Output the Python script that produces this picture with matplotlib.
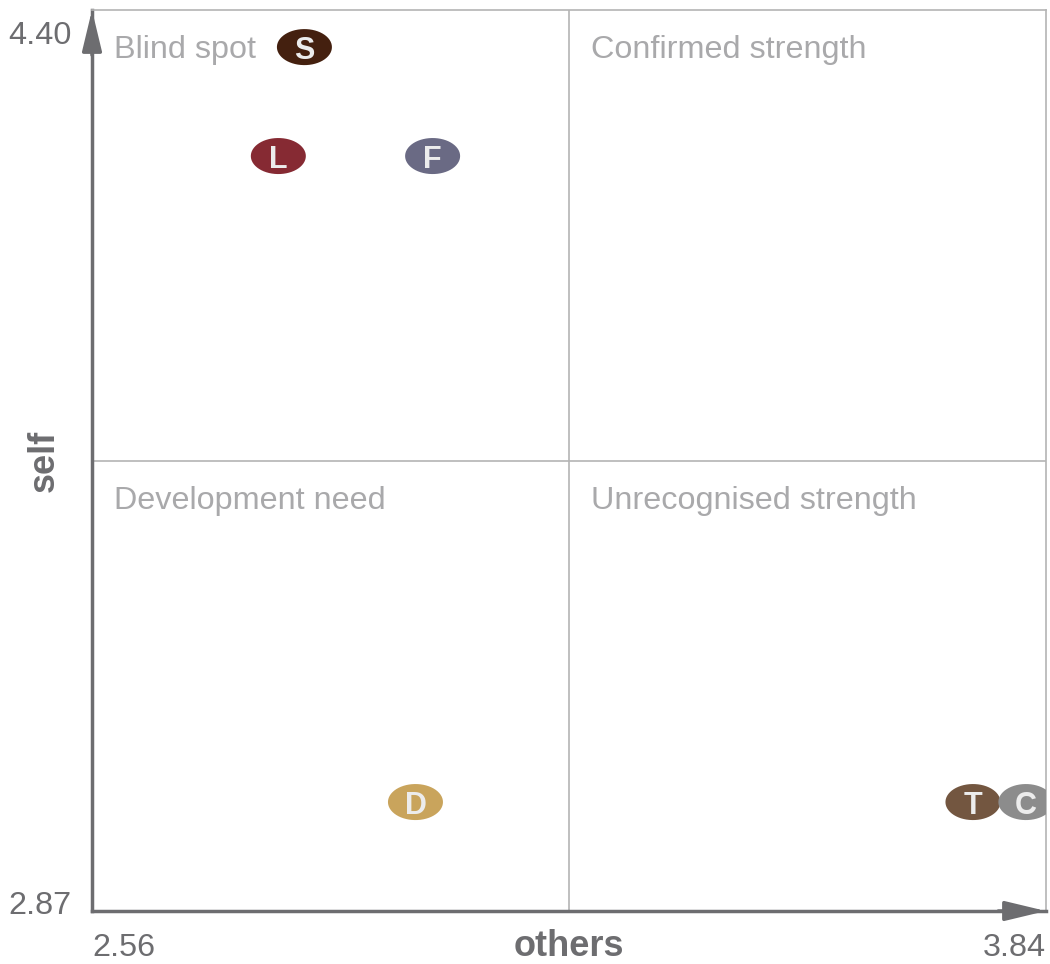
import matplotlib
matplotlib.use("Agg")
import matplotlib.pyplot as plt
from matplotlib.path import Path
import numpy as np

plt.rcParams['font.family'] = ['Liberation Sans', 'DejaVu Sans']

# donnees
labels = ["S", "L", "F", "D", "T", "C"]
others = [2.845, 2.810, 3.017, 2.994, 3.742, 3.813]
self_scores = [4.337, 4.152, 4.152, 3.055, 3.055, 3.055]
colors = ["#44200f", "#862a33", "#6a6a84", "#c9a45c", "#735640", "#8c8c8c"]

x_min, x_max = 2.56, 3.84
y_min, y_max = 2.87, 4.40
x_mid = (x_min + x_max) / 2
y_mid = (y_min + y_max) / 2

quadrants = ["Blind spot", "Confirmed strength", "Development need", "Unrecognised strength"]

axis_col = "#6d6d70"
light_col = "#b4b4b4"
quad_col = "#a9a9ab"

fig = plt.figure(figsize=(10.5, 9.64), dpi=100)
ax = fig.add_axes([92/1050, 1 - 911/964, (1046 - 92)/1050, (911 - 10)/964])
ax.set_xlim(x_min, x_max)
ax.set_ylim(y_min, y_max)
ax.set_xticks([])
ax.set_yticks([])

for s in ["top", "right"]:
    ax.spines[s].set_color(light_col)
    ax.spines[s].set_linewidth(1.2)
for s in ["left", "bottom"]:
    ax.spines[s].set_color(axis_col)
    ax.spines[s].set_linewidth(2.5)

# lignes du milieu
ax.axvline(x_mid, color=light_col, lw=1.2, zorder=1)
ax.axhline(y_mid, color=light_col, lw=1.2, zorder=1)

# fleches des axes
arrow = dict(arrowstyle="-|>,head_length=2.5,head_width=0.6",
             color=axis_col, lw=2.5, shrinkA=0, shrinkB=0)
ax.annotate("", xy=(0, 1.0), xytext=(0, 0.95), xycoords="axes fraction",
            arrowprops=arrow, annotation_clip=False)
ax.annotate("", xy=(1.0, 0), xytext=(0.95, 0), xycoords="axes fraction",
            arrowprops=arrow, annotation_clip=False)

# marqueur ellipse
t = np.linspace(0, 2*np.pi, 60)
ell = Path(np.column_stack([np.cos(t), 0.655*np.sin(t)]))
ax.scatter(others, self_scores, s=1570, marker=ell, c=colors, linewidths=0, zorder=3)
for lab, x, y in zip(labels, others, self_scores):
    ax.text(x, y, lab, color="#ececec", fontsize=22, fontweight="bold",
            ha="center", va="center_baseline", zorder=4, clip_on=True)

# textes des quadrants
quad_pos = [(0, 1), (0.5, 1), (0, 0.5), (0.5, 0.5)]
for txt, (qx, qy) in zip(quadrants, quad_pos):
    ax.annotate(txt, xy=(qx, qy), xycoords="axes fraction", xytext=(22, -40),
                textcoords="offset pixels", ha="left", va="center",
                color=quad_col, fontsize=23.3)

# etiquettes des limites
tick_kw = dict(xycoords="axes fraction", textcoords="offset pixels",
               color=axis_col, fontsize=23.3, annotation_clip=False)
ax.annotate(f"{y_max:.2f}", xy=(0, 1), xytext=(-20, -26), ha="right", va="center", **tick_kw)
ax.annotate(f"{y_min:.2f}", xy=(0, 0), xytext=(-20, 5), ha="right", va="center", **tick_kw)
ax.annotate(f"{x_min:.2f}", xy=(0, 0), xytext=(0, -37), ha="left", va="center", **tick_kw)
ax.annotate(f"{x_max:.2f}", xy=(1, 0), xytext=(0, -37), ha="right", va="center", **tick_kw)

ax.annotate("others", xy=(0.5, 0), xytext=(0, -35), xycoords="axes fraction",
            textcoords="offset pixels", ha="center", va="center",
            color=axis_col, fontsize=26, fontweight="bold", annotation_clip=False)
ax.annotate("self", xy=(0, 0.5), xytext=(-48, 0), xycoords="axes fraction",
            textcoords="offset pixels", ha="center", va="center", rotation=90,
            color=axis_col, fontsize=26, fontweight="bold", annotation_clip=False)

plt.savefig("out.png", dpi=100)
